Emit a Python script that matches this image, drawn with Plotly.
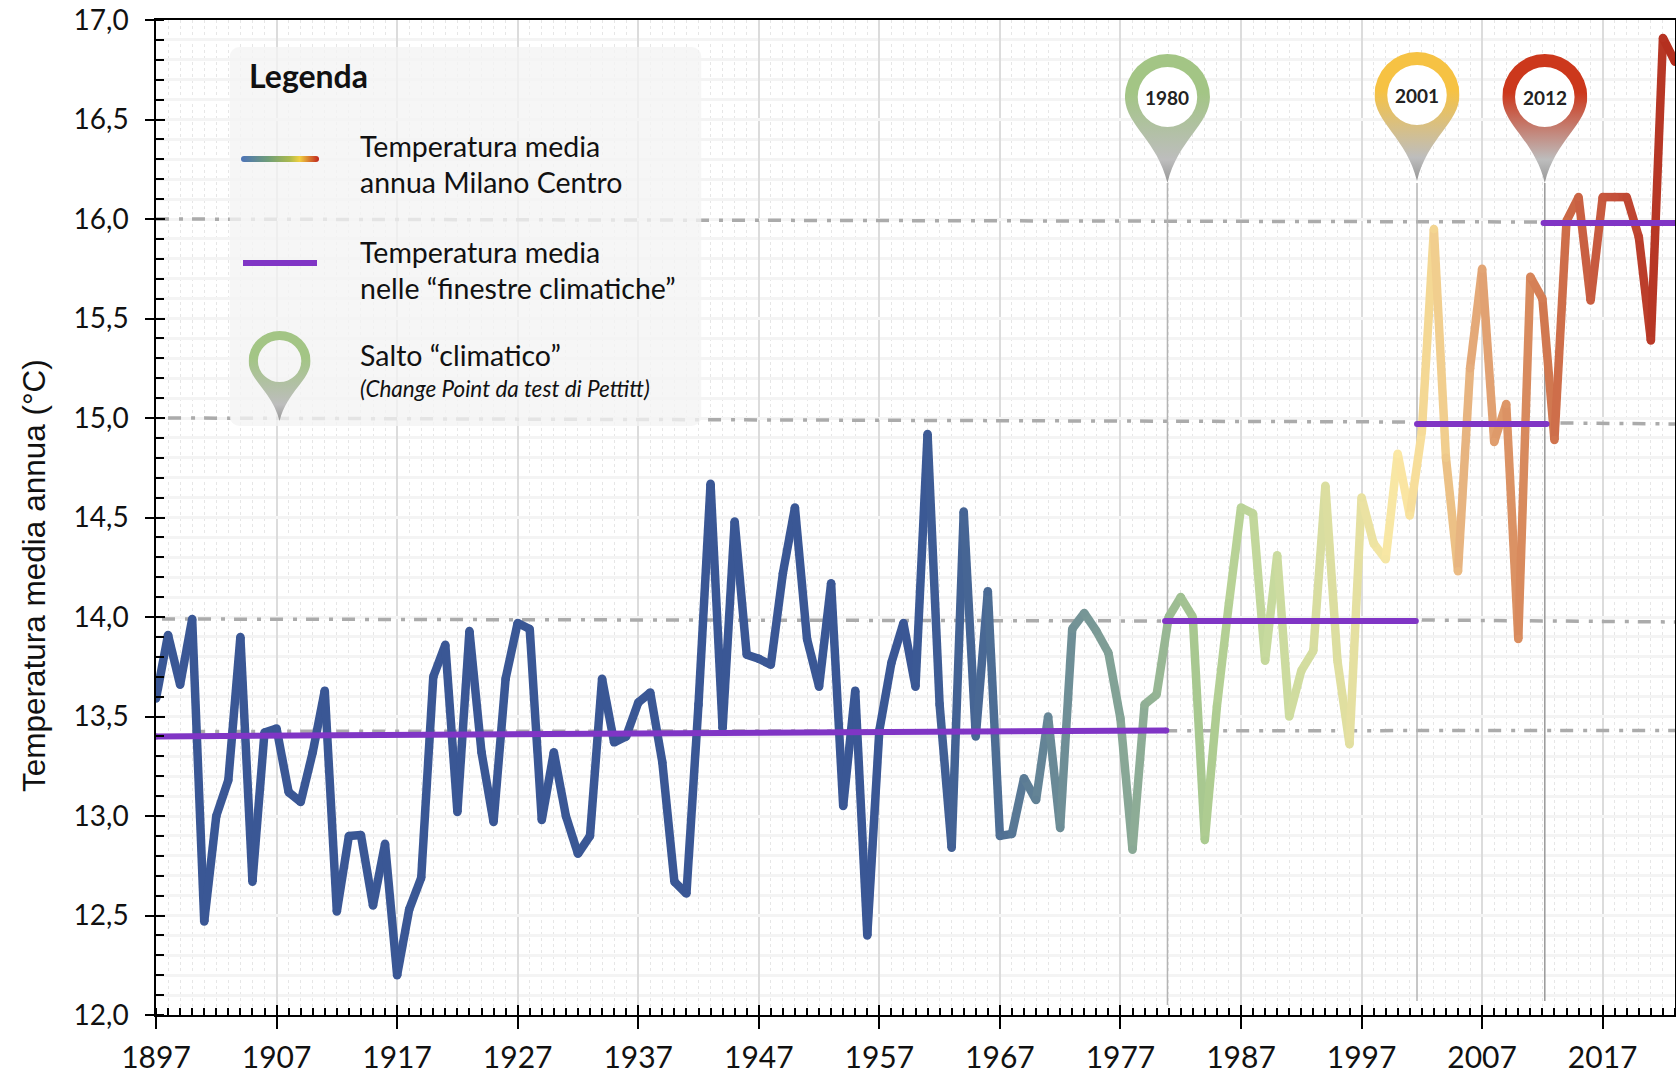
import base64
import plotly.graph_objects as go

YEARS = list(range(1897, 2024))
TEMPS = [13.59, 13.91, 13.66, 13.99, 12.47, 13.00, 13.18, 13.90, 12.67, 13.42,
         13.44, 13.12, 13.07, 13.32, 13.63, 12.52, 12.90, 12.905, 12.55, 12.86,
         12.20, 12.53, 12.69, 13.70, 13.86, 13.02, 13.93, 13.32, 12.97, 13.69,
         13.97, 13.94, 12.98, 13.32, 13.00, 12.81, 12.90, 13.69, 13.37, 13.40,
         13.57, 13.62, 13.27, 12.67, 12.61, 13.56, 14.67, 13.44, 14.48, 13.81,
         13.79, 13.76, 14.22, 14.55, 13.89, 13.65, 14.17, 13.05, 13.63, 12.40,
         13.43, 13.77, 13.97, 13.65, 14.92, 13.56, 12.84, 14.53, 13.40, 14.13,
         12.90, 12.91, 13.19, 13.08, 13.50, 12.94, 13.94, 14.02, 13.93, 13.82,
         13.49, 12.83, 13.56, 13.61, 14.00, 14.10, 14.00, 12.88, 13.55, 14.07,
         14.55, 14.52, 13.78, 14.31, 13.50, 13.73, 13.83, 14.66, 13.78, 13.36,
         14.60, 14.37, 14.29, 14.82, 14.51, 14.93, 15.95, 14.80, 14.23, 15.25,
         15.75, 14.88, 15.07, 13.89, 15.71, 15.60, 14.89, 15.99, 16.11, 15.59,
         16.11, 16.11, 16.11, 15.91, 15.39, 16.91, 16.79]

COLOR_YEARS = [1897, 1960, 1966, 1972, 1978, 1984, 1990, 1996, 2000, 2003, 2006, 2010, 2014, 2018, 2023]
COLOR_STOPS = ["#3A5795", "#3A5795", "#4A6A94", "#6C8C96", "#8AA996", "#ABCB90", "#CADB9F", "#E2DFA0",
               "#FBE8A5", "#F3D591", "#E5AD7C", "#DA8E60", "#CC6A47", "#C4503A", "#B22C1C"]

WINDOW_START = [1897, 1980.7, 2001.6, 2012.1]
WINDOW_END = [1980.8, 2001.5, 2012.35, 2023]
WINDOW_MEAN_A = [13.40, 13.98, 14.97, 15.98]
WINDOW_MEAN_B = [13.43, 13.98, 14.97, 15.98]

REF_X0 = [1897, 1898, 2013.5, 1897.5, 2002, 1900]
REF_X1 = [2012, 2001, 2023, 1981, 2023, 2023]
REF_Y0 = [16.00, 15.00, 14.975, 13.99, 13.985, 13.425]
REF_Y1 = [15.985, 14.98, 14.97, 13.98, 13.975, 13.43]

PIN_LABELS = ["1980", "2001", "2012"]
PIN_X = [1980.9, 2001.6, 2012.2]
PIN_COLORS = ["#A3C585", "#F6C243", "#CC381C"]
PIN_TOPS = [54, 52, 54]
PIN_STEM_BOTTOM = [12.05, 12.07, 12.07]
PIN_STEM_COLOR = ["#B4B4B4", "#B4B4B4", "#999999"]

LEFT, RIGHT, TOP, BOTTOM = 156.0, 1675.0, 20.0, 1015.0
W, H = 1676, 1075
PX = (RIGHT - LEFT) / (2023 - 1897)
PY = (BOTTOM - TOP) / 5.0


def X(px):
    return 1897 + (px - LEFT) / PX


def Y(py):
    return 12 + (BOTTOM - py) / PY


def lerp_color(year):
    for i in range(len(COLOR_YEARS) - 1):
        if COLOR_YEARS[i] <= year <= COLOR_YEARS[i + 1]:
            t = (year - COLOR_YEARS[i]) / (COLOR_YEARS[i + 1] - COLOR_YEARS[i])
            a, b = COLOR_STOPS[i], COLOR_STOPS[i + 1]
            rgb = [round(int(a[k:k + 2], 16) * (1 - t) + int(b[k:k + 2], 16) * t) for k in (1, 3, 5)]
            return "rgb(%d,%d,%d)" % tuple(rgb)
    return COLOR_STOPS[-1]


def uri(svg):
    return "data:image/svg+xml;base64," + base64.b64encode(svg.encode()).decode()


def pin_svg(color, hole_white, uid):
    hole = '<circle cx="50" cy="50" r="35" fill="#ffffff"/>' if hole_white else ""
    ring = ('<path fill-rule="evenodd" fill="url(#g%s)" d="M0,50 A50,50 0 0 1 100,50 '
            'C100,82 62,100 50,150 C38,100 0,82 0,50 Z M15,50 A35,35 0 0 0 85,50 A35,35 0 0 0 15,50 Z"/>' % uid)
    return ('<svg xmlns="http://www.w3.org/2000/svg" viewBox="0 0 100 150" width="100" height="150" preserveAspectRatio="none">'
            '<defs><linearGradient id="g%s" x1="0" y1="0" x2="0" y2="1">'
            '<stop offset="0" stop-color="%s"/><stop offset="0.3" stop-color="%s"/>'
            '<stop offset="0.82" stop-color="#bdbdbd"/><stop offset="1" stop-color="#969696"/>'
            '</linearGradient></defs>%s%s</svg>' % (uid, color, color, hole, ring))


fig = go.Figure()

# Reference dash-dot levels
for x0, x1, y0, y1 in zip(REF_X0, REF_X1, REF_Y0, REF_Y1):
    fig.add_trace(go.Scatter(x=[x0, x1], y=[y0, y1], mode="lines", hoverinfo="skip",
                             line=dict(color="#ABABAB", width=3.5, dash="13px,10px,4px,9px")))

# Pin stems
for px, bottom, col in zip(PIN_X, PIN_STEM_BOTTOM, PIN_STEM_COLOR):
    fig.add_trace(go.Scatter(x=[px, px], y=[bottom, Y(183)], mode="lines", hoverinfo="skip",
                             line=dict(color=col, width=1.5)))

# Temperature line, one piece per year so that the colour can change along it
for i in range(len(YEARS) - 1):
    fig.add_trace(go.Scatter(x=YEARS[i:i + 2], y=TEMPS[i:i + 2], mode="lines", hoverinfo="skip",
                             line=dict(color=lerp_color(YEARS[i] + 0.5), width=8.5)))
fig.add_trace(go.Scatter(x=YEARS, y=TEMPS, mode="markers", hoverinfo="skip",
                         marker=dict(size=8.5, color=[lerp_color(y) for y in YEARS], line=dict(width=0))))

# Climate-window means on the overlay axes (above the line)
for x0, x1, a, b in zip(WINDOW_START, WINDOW_END, WINDOW_MEAN_A, WINDOW_MEAN_B):
    fig.add_trace(go.Scatter(x=[x0, x1], y=[a, b], mode="lines+markers", hoverinfo="skip",
                             xaxis="x2", yaxis="y2", marker=dict(size=6, color="#8035C5"),
                             line=dict(color="#8035C5", width=6)))

FONT = "Lato"
images = []
panel = ('<svg xmlns="http://www.w3.org/2000/svg" viewBox="0 0 472 380" width="472" height="380" preserveAspectRatio="none">'
         '<rect x="0" y="0" width="472" height="380" rx="10" ry="10" fill="#f3f3f3" fill-opacity="0.78"/></svg>')
images.append(dict(source=uri(panel), xref="x", yref="y", x=X(229.5), y=Y(47), sizex=472 / PX, sizey=379 / PY,
                   xanchor="left", yanchor="top", sizing="stretch", layer="above"))
grad = ('<svg xmlns="http://www.w3.org/2000/svg" viewBox="0 0 78 6" width="78" height="6" preserveAspectRatio="none">'
        '<defs><linearGradient id="r" x1="0" y1="0" x2="1" y2="0">'
        '<stop offset="0" stop-color="#4C72B8"/><stop offset="0.35" stop-color="#6F9E78"/>'
        '<stop offset="0.62" stop-color="#A9B94E"/><stop offset="0.75" stop-color="#F0D040"/>'
        '<stop offset="1" stop-color="#C0241C"/></linearGradient></defs>'
        '<rect width="78" height="6" rx="3" ry="3" fill="url(#r)"/></svg>')
images.append(dict(source=uri(grad), xref="x", yref="y", x=X(241), y=Y(156), sizex=78 / PX, sizey=6 / PY,
                   xanchor="left", yanchor="top", sizing="stretch", layer="above"))
images.append(dict(source=uri(pin_svg("#A3C585", False, "L")), xref="x", yref="y", x=X(279.6), y=Y(331),
                   sizex=62 / PX, sizey=90 / PY, xanchor="center", yanchor="top", sizing="stretch", layer="above"))
for i, (px, col, top) in enumerate(zip(PIN_X, PIN_COLORS, PIN_TOPS)):
    images.append(dict(source=uri(pin_svg(col, True, str(i))), xref="x", yref="y", x=px, y=Y(top),
                       sizex=85 / PX, sizey=129 / PY, xanchor="center", yanchor="top", sizing="stretch", layer="above"))

shapes = [dict(type="line", xref="x", yref="y", x0=X(243), x1=X(317), y0=Y(263), y1=Y(263), layer="above",
               line=dict(color="#8035C5", width=6))]


def note(px, py, text, size=28.5):
    return dict(x=X(px), y=Y(py), xref="x", yref="y", text=text, showarrow=False, xanchor="left",
                yanchor="middle", font=dict(family=FONT, size=size, color="#111111"))


annotations = [
    note(247, 75, "<b>Legenda</b>", size=32),
    note(358, 146, "Temperatura media"),
    note(358, 182, "annua Milano Centro"),
    note(358, 252, "Temperatura media"),
    note(358, 288, "nelle “finestre climatiche”"),
    note(358, 355, "Salto “climatico”"),
    note(358, 388, "<i>(Change Point da test di Pettitt)</i>", size=22.5),
    dict(x=(34 - LEFT) / (RIGHT - LEFT), y=(BOTTOM - 576) / (BOTTOM - TOP), xref="paper", yref="paper",
         text="Temperatura media annua (°C)", textangle=-90,
         showarrow=False, xanchor="center", yanchor="middle",
         font=dict(family="Liberation Sans", size=31.5, color="#111111")),
]
for lab, px, top in zip(PIN_LABELS, PIN_X, PIN_TOPS):
    annotations.append(dict(x=px, y=Y(top + 43), xref="x", yref="y", text="<b>%s</b>" % lab, showarrow=False,
                            xanchor="center", yanchor="middle", font=dict(family=FONT, size=19, color="#222222")))

fig.update_layout(
    width=W, height=H, autosize=False, showlegend=False, separators=",.",
    paper_bgcolor="white", plot_bgcolor="white",
    margin=dict(l=LEFT, r=W - RIGHT, t=TOP, b=H - BOTTOM, pad=0, autoexpand=False),
    images=images, shapes=shapes, annotations=annotations,
    xaxis=dict(range=[1897, 2023], tick0=1897, dtick=10, tickformat="d", ticks="outside", ticklen=12, tickwidth=1.5,
               tickcolor="black", showline=True, linecolor="black", linewidth=1.5, mirror=True, zeroline=False,
               automargin=False,
               showgrid=True, gridcolor="#DCDCDC", gridwidth=1.5, ticklabelstandoff=3,
               minor=dict(dtick=1, tick0=1897, ticks="inside", ticklen=7, tickwidth=1.5, tickcolor="black",
                          showgrid=True, gridcolor="#E6E6E6", gridwidth=1, griddash="dot"),
               tickfont=dict(family=FONT, size=30, color="#111111")),
    yaxis=dict(range=[12, 17], tick0=12, dtick=0.5, tickformat=".1f", ticks="outside", ticklen=9, tickwidth=1.5,
               tickcolor="black", showline=True, linecolor="black", linewidth=1.5, mirror=True, zeroline=False,
               automargin=False,
               showgrid=True, gridcolor="#F4F4F4", gridwidth=2.5, ticklabelstandoff=11,
               minor=dict(dtick=0.1, tick0=12, ticks="inside", ticklen=8, tickwidth=1.5, tickcolor="black",
                          showgrid=True, gridcolor="#F4F4F4", gridwidth=2.5),
               tickfont=dict(family=FONT, size=28, color="#111111")),
    xaxis2=dict(range=[1897, 2023], overlaying="x", anchor="y2", side="bottom", tick0=1897, dtick=10, ticks="inside",
                ticklen=10, tickwidth=1.5, tickcolor="black", showticklabels=False, showgrid=False, zeroline=False,
                showline=False, automargin=False),
    yaxis2=dict(range=[12, 17], overlaying="y", anchor="x2", side="left", tick0=12, dtick=0.5, ticks="inside",
                ticklen=9, tickwidth=1.5, tickcolor="black", showticklabels=False, showgrid=False, zeroline=False,
                showline=False, automargin=False),
)

fig.write_html("out.html", config=dict(displayModeBar=False),
               post_script="document.body.style.margin='0';document.documentElement.style.overflow='hidden';")
